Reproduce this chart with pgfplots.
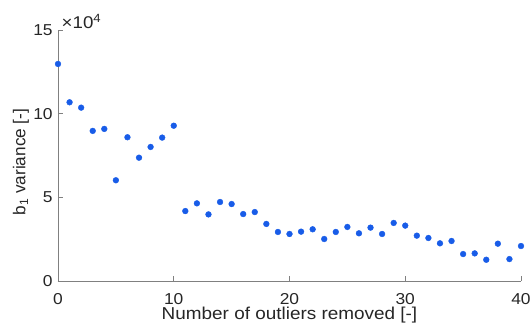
\documentclass[border=0pt]{standalone}
\usepackage{fontspec}
\setmainfont{Liberation Sans}
\usepackage{pgfplots}
\pgfplotsset{compat=1.18}

\definecolor{axisgray}{RGB}{128,128,128}
\definecolor{txtgray}{RGB}{38,38,38}
\definecolor{ptblue}{RGB}{24,92,232}

\newcommand{\tickfont}{\fontsize{15.8}{18}\selectfont}
\newcommand{\labelfont}{\fontsize{17.2}{20}\selectfont}

\begin{document}
\begin{tikzpicture}
\begin{axis}[
  scale only axis,
  width=463pt, height=251pt,
  xmin=0, xmax=40, ymin=0, ymax=150000,
  axis x line*=bottom, axis y line*=left,
  axis line style={axisgray, line width=0.8pt},
  tick style={axisgray, line width=0.8pt},
  tick align=inside, major tick length=5pt,
  xtick={0,10,20,30,40},
  ytick={0,50000,100000,150000},
  scaled y ticks=base 10:-4,
  ytick scale label code/.code={},
  /pgf/number format/assume math mode=true,
  tick label style={font=\tickfont, text=txtgray, inner sep=0pt, xscale=1.1},
  xticklabel style={anchor=north, yshift=-12pt},
  yticklabel style={anchor=east, xshift=-4.7pt},
  xlabel={Number of outliers removed [-]},
  ylabel={b\textsubscript{1} variance [-]},
  label style={font=\labelfont, text=txtgray, inner sep=0pt},
  xlabel style={at={(axis description cs:0.5,0)}, anchor=north, yshift=-26pt, xscale=1.1},
  ylabel style={at={([xshift=-32.5pt]axis description cs:0,0.474)}, anchor=base, rotate=0},
  clip=false,
]
\addplot[only marks, mark=*, mark size=2.9pt, draw=ptblue, fill=ptblue] coordinates {
  (0,129700) (1,106800) (2,103600) (3,89700) (4,90900)
  (5,60200) (6,85900) (7,73700) (8,80100) (9,85700)
  (10,92800) (11,41800) (12,46400) (13,39800) (14,47200)
  (15,46000) (16,40000) (17,41200) (18,34100) (19,29300)
  (20,28100) (21,29500) (22,30900) (23,25100) (24,29300)
  (25,32300) (26,28500) (27,31900) (28,28100) (29,34700)
  (30,33100) (31,27100) (32,25700) (33,22500) (34,23900)
  (35,16100) (36,16500) (37,12700) (38,22300) (39,13100)
  (40,20900)
};
% exponent of the y tick values
\node[anchor=base west, inner sep=0pt, xscale=1.1, text=txtgray,
      font=\fontsize{17}{19}\selectfont]
  at ([xshift=3.5pt, yshift=1.5pt]axis description cs:0,1) {×10\textsuperscript{4}};
\end{axis}
\pgfresetboundingbox
\useasboundingbox ([shift={(-58pt,-50pt)}]current axis.south west)
  rectangle ([shift={(11pt,30pt)}]current axis.north east);
\end{tikzpicture}
\end{document}
